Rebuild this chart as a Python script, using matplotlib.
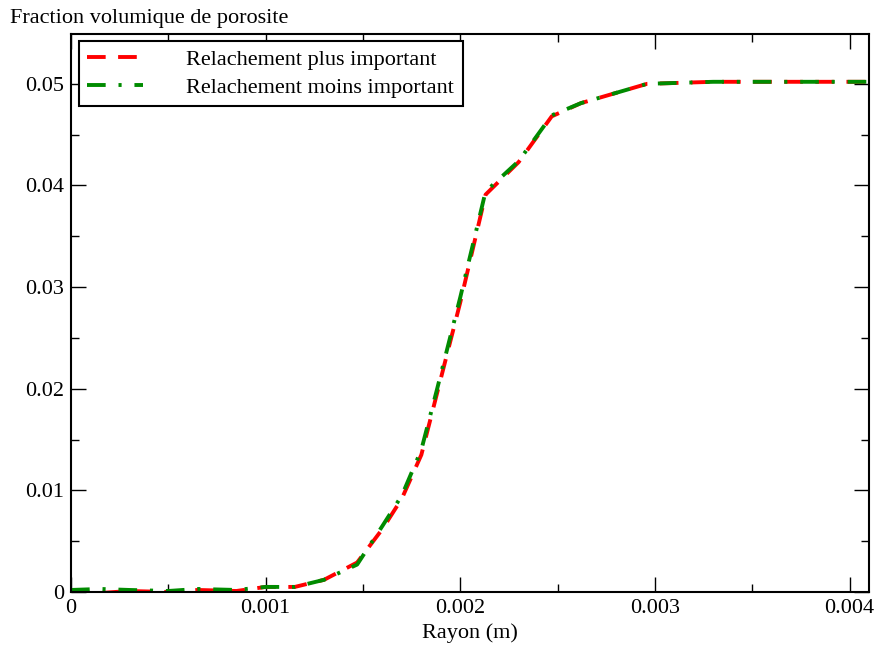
import matplotlib
matplotlib.use('Agg')
import matplotlib.pyplot as plt
from matplotlib.ticker import MultipleLocator

# rayon (m)
rayon = [0.0, 0.00015, 0.0003, 0.0005, 0.00065, 0.00085, 0.001, 0.00115, 0.0013,
         0.00147, 0.0016, 0.0017, 0.0018, 0.00188, 0.002, 0.00213, 0.0023,
         0.00247, 0.00262, 0.00296, 0.0033, 0.0037, 0.0041]
# relachement plus important
plus = [0.0, -0.0001, 0.0001, 0.0, 0.0002, 0.0001, 0.0005, 0.0005, 0.0012,
        0.0029, 0.0062, 0.0092, 0.0135, 0.0195, 0.0285, 0.0391, 0.0423,
        0.0468, 0.0481, 0.0500, 0.0502, 0.0502, 0.0502]
# relachement moins important
moins = [0.0002, 0.0003, 0.0002, 0.0001, 0.0003, 0.0002, 0.0005, 0.0005, 0.0012,
         0.0027, 0.0065, 0.0095, 0.0140, 0.0199, 0.0290, 0.0394, 0.0424,
         0.0469, 0.0481, 0.0500, 0.0502, 0.0502, 0.0502]

plt.rcParams['font.family'] = ['Liberation Serif', 'DejaVu Serif']
plt.rcParams['font.size'] = 16

fig = plt.figure(figsize=(8.79, 6.47), dpi=100)
ax = fig.add_axes([0.0808, 0.085, 0.9078, 0.8624])

ax.plot(rayon, plus, color='#ff0000', lw=2.8, dashes=(4.8, 3.2),
        label='Relachement plus important')
ax.plot(rayon, moins, color='#008b00', lw=2.8, dashes=(4.8, 3.3, 0.8, 3.3),
        label='Relachement moins important')

ax.set_xlim(0, 0.0041)
ax.set_ylim(0, 0.0549)
ax.xaxis.set_minor_locator(MultipleLocator(0.0005))
ax.yaxis.set_minor_locator(MultipleLocator(0.005))
ax.set_xticks([0, 0.001, 0.002, 0.003, 0.004])
ax.set_xticklabels(['0', '0.001', '0.002', '0.003', '0.004'])
ax.set_yticks([0, 0.01, 0.02, 0.03, 0.04, 0.05])
ax.set_yticklabels(['0', '0.01', '0.02', '0.03', '0.04', '0.05'])

ax.tick_params(which='both', direction='in', top=True, right=True, width=1.0)
ax.tick_params(which='major', length=11, pad=5)
ax.tick_params(which='minor', length=6)
for s in ax.spines.values():
    s.set_linewidth(1.5)

ax.set_xlabel('Rayon (m)', labelpad=4)
fig.text(0.011, 0.972, 'Fraction volumique de porosite', ha='left', va='center')

leg = ax.legend(loc='upper left', bbox_to_anchor=(0.010, 0.988), fancybox=False,
                edgecolor='black', framealpha=1, handlelength=2.5,
                handletextpad=1.95, borderpad=0.38, labelspacing=0.33,
                borderaxespad=0)
leg.get_frame().set_linewidth(1.5)

fig.savefig('out.png', dpi=100)
